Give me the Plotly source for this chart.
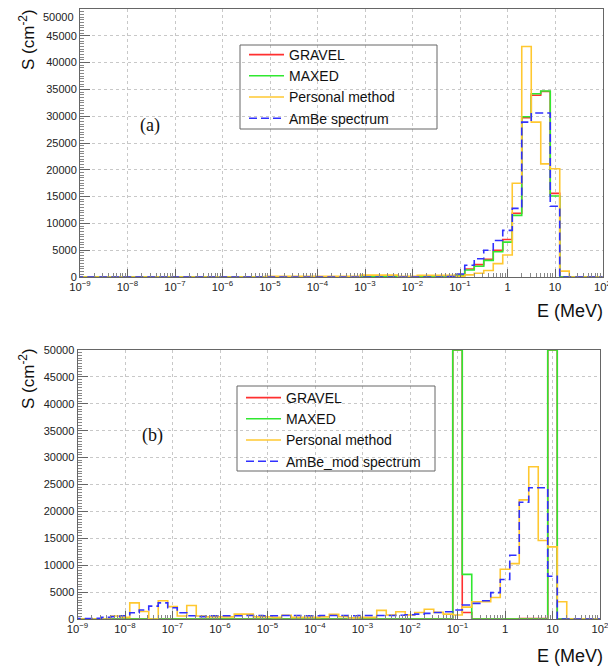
import plotly.graph_objects as go

# bin edges (log10 of E in MeV), 0.2-decade bins
log_edges = [-9.1, -8.9, -8.7, -8.5, -8.3, -8.1, -7.9, -7.7, -7.5, -7.3,
             -7.1, -6.9, -6.7, -6.5, -6.3, -6.1, -5.9, -5.7, -5.5, -5.3,
             -5.1, -4.9, -4.7, -4.5, -4.3, -4.1, -3.9, -3.7, -3.5, -3.3,
             -3.1, -2.9, -2.7, -2.5, -2.3, -2.1, -1.9, -1.7, -1.5, -1.3,
             -1.1, -0.9, -0.7, -0.5, -0.3, -0.1, 0.1, 0.3, 0.5, 0.7,
             0.9, 1.1, 1.3, 1.5, 1.7, 1.9, 2.1]

# y tick values (top one of panel (a) is written separately so it is not cut)
y_ticks = [0, 5000, 10000, 15000, 20000, 25000, 30000, 35000, 40000, 45000, 50000]

# ---- panel (a) ----
gravel_a = [0]*30 + [50, 50, 50, 50, 50, 50, 50, 50, 50, 100,
            300, 1500, 2300, 3300, 5000, 7000, 11900, 29700, 33900, 34600,
            15600, 0, 0, 0, 0, 0]
maxed_a = [0]*30 + [50, 50, 50, 50, 50, 50, 50, 50, 50, 100,
           300, 1300, 2000, 3100, 4700, 6500, 11500, 29900, 34200, 34700,
           15100, 0, 0, 0, 0, 0]
personal_a = [0]*20 + [150, 150, 150, 150, 150, 150, 150, 150, 150, 150,
              350, 350, 350, 350, 150, 150, 300, 300, 300, 300,
              150, 400, 700, 1200, 2500, 4100, 17500, 43000, 28900, 21100,
              20200, 1100, 0, 0, 0, 0]
ambe_a = [0]*39 + [100, 550, 2200, 3400, 5000, 6800, 8700, 12800, 28900, 30600,
                   30600, 13200, 0, 0, 0, 0, 0]

# ---- panel (b) ----
gravel_b = [0]*40 + [50000, 1200, 0, 0, 0, 0, 0, 100, 100, 100,
                     50000, 0, 0, 0, 0, 0]
maxed_b = [0]*40 + [50000, 8300, 0, 0, 0, 0, 0, 0, 0, 0,
                    50000, 0, 0, 0, 0, 0]
personal_b = [0, 0, 0, 0, 550, 300, 3000, 1400, 0, 3400,
              2300, 560, 2500, 560, 400, 400, 400, 900, 900, 400,
              400, 300, 700, 300, 300, 300, 400, 860, 430, 200,
              300, 300, 1600, 740, 1360, 740, 1200, 1800, 1230, 900,
              740, 2200, 3200, 3200, 4000, 9260, 10300, 22150, 28300, 14600,
              13400, 3200, 0, 0, 0, 0]
ambe_b = [100, 100, 150, 300, 450, 600, 1170, 1670, 2400, 3000,
          2100, 1170, 600, 450, 600, 600, 600, 600, 650, 650,
          600, 600, 650, 650, 600, 600, 650, 650, 650, 600,
          650, 650, 650, 650, 700, 800, 900, 1050, 1200, 1360,
          1670, 2600, 2900, 3400, 4900, 7350, 11850, 21700, 24400, 24400,
          7960, 0, 0, 0, 0, 0]

names_a = ["GRAVEL", "MAXED", "Personal method", "AmBe spectrum"]
names_b = ["GRAVEL", "MAXED", "Personal method", "AmBe_mod spectrum"]
colors = ["#ff3030", "#30e830", "#ffc830", "#3030ff"]
dashes = ["solid", "solid", "solid", "8px,4px"]

E_edges = [10 ** e for e in log_edges]

# page body has an 8px margin: the figure is sized so that it fills the window
OFF = 8
W, H = 616 - OFF, 670 - OFF
fig = go.Figure()


def add_panel(series, names, xa, ya, leg):
    for vals, name, col, dsh in zip(series, names, colors, dashes):
        fig.add_trace(go.Scatter(
            x=E_edges, y=list(vals) + [vals[-1]], mode="lines",
            line=dict(color=col, width=1.6, dash=dsh, shape="hv"),
            name=name, xaxis=xa, yaxis=ya, legend=leg))


add_panel([gravel_a, maxed_a, personal_a, ambe_a], names_a, "x", "y", "legend")
add_panel([gravel_b, maxed_b, personal_b, ambe_b], names_b, "x2", "y2", "legend2")

font = "Liberation Sans, Arial, sans-serif"


def xax(domain, anchor):
    return dict(type="log", range=[-9, 2], domain=domain, anchor=anchor,
                dtick=1, exponentformat="power", showgrid=True,
                gridcolor="#c8c8c8", griddash="dot", gridwidth=1,
                ticks="inside", ticklen=8, tickcolor="#666",
                showline=True, mirror=True, linecolor="#666", linewidth=1,
                minor=dict(ticks="inside", ticklen=4, dtick="D1",
                           tickcolor="#888", showgrid=False),
                tickfont=dict(family=font, size=9, color="#222"),
                ticklabeloverflow="allow",
                automargin=False, zeroline=False, fixedrange=True)


def yax(domain, anchor, tvals):
    return dict(range=[0, 50000], domain=domain, anchor=anchor,
                tickmode="array", tickvals=tvals, tickformat="d", showgrid=True,
                gridcolor="#c8c8c8", griddash="dot", gridwidth=1,
                ticks="inside", ticklen=10, tickcolor="#666",
                showline=True, mirror=True, linecolor="#666", linewidth=1,
                minor=dict(ticks="inside", ticklen=4, dtick=500,
                           tickcolor="#888", showgrid=False),
                tickfont=dict(family=font, size=11, color="#222"),
                ticklabeloverflow="allow",
                automargin=False, zeroline=False, fixedrange=True)


def px_x(v):
    return (v - OFF) / W


def px_y(v):
    return 1 - (v - OFF) / H


fig.update_layout(
    width=W, height=H, margin=dict(l=0, r=0, t=0, b=0),
    paper_bgcolor="white", plot_bgcolor="white",
    xaxis=xax([px_x(80), px_x(602.5)], "y"),
    yaxis=yax([px_y(277), px_y(9)], "x", y_ticks[:-1]),
    xaxis2=xax([px_x(77.5), px_x(600)], "y2"),
    yaxis2=yax([px_y(619), px_y(350)], "x2", y_ticks),
    legend=dict(x=px_x(244), y=px_y(39), xanchor="left", yanchor="top",
                bgcolor="rgba(0,0,0,0)", borderwidth=0,
                font=dict(family=font, size=14, color="#111"),
                itemwidth=35, tracegroupgap=0),
    legend2=dict(x=px_x(241), y=px_y(382), xanchor="left", yanchor="top",
                 bgcolor="rgba(0,0,0,0)", borderwidth=0,
                 font=dict(family=font, size=14, color="#111"),
                 itemwidth=35, tracegroupgap=0),
    showlegend=True,
)

# legend frames
fig.add_shape(type="rect", xref="paper", yref="paper",
              x0=px_x(240), x1=px_x(437), y0=px_y(129), y1=px_y(45),
              line=dict(color="#666", width=1), fillcolor="rgba(0,0,0,0)")
fig.add_shape(type="rect", xref="paper", yref="paper",
              x0=px_x(237), x1=px_x(435), y0=px_y(471), y1=px_y(386),
              line=dict(color="#666", width=1), fillcolor="rgba(0,0,0,0)")

ann = []
# top label of panel (a) y axis, kept just inside the page
ann.append(dict(text=str(y_ticks[-1]), x=px_x(76), y=px_y(8.5), xref="paper",
                yref="paper", showarrow=False, xanchor="right", yanchor="top",
                font=dict(family=font, size=11, color="#222")))
for yc in (40, 379):
    ann.append(dict(text="S (cm<sup>-2</sup>)", x=px_x(27), y=px_y(yc),
                    xref="paper", yref="paper", showarrow=False, textangle=-90,
                    font=dict(family=font, size=17, color="#111"),
                    xanchor="center", yanchor="middle"))
for yc, xr in ((311, 605), (656, 605)):
    ann.append(dict(text="E (MeV)", x=px_x(xr), y=px_y(yc),
                    xref="paper", yref="paper", showarrow=False,
                    font=dict(family=font, size=18, color="#111"),
                    xanchor="right", yanchor="middle"))
ann.append(dict(text="(a)", x=px_x(150), y=px_y(126), xref="paper", yref="paper",
                showarrow=False, font=dict(family="Liberation Serif, Times New Roman, serif",
                                           size=18, color="#111"),
                xanchor="center", yanchor="middle"))
ann.append(dict(text="(b)", x=px_x(152), y=px_y(436), xref="paper", yref="paper",
                showarrow=False, font=dict(family="Liberation Serif, Times New Roman, serif",
                                           size=18, color="#111"),
                xanchor="center", yanchor="middle"))
fig.update_layout(annotations=ann)

fig.write_html("out.html")
